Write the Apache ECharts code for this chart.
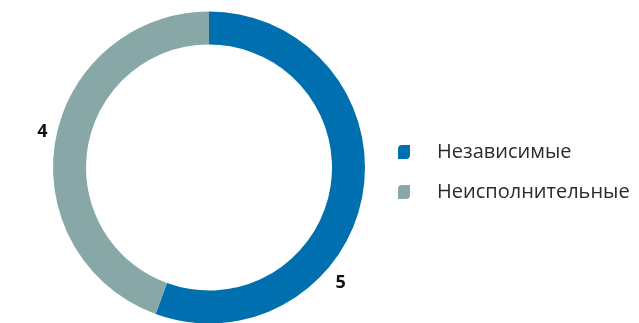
<!DOCTYPE html>
<html>
<head>
<meta charset="utf-8">
<script src="https://cdn.jsdelivr.net/npm/echarts@6/dist/echarts.min.js"></script>
<style>
  html, body { margin: 0; padding: 0; background: #ffffff; }
  #chart { width: 639px; height: 323px; }
</style>
</head>
<body>
<div id="chart"></div>
<script>
// Board composition: independent vs non-executive directors
const categories = ['Независимые', 'Неисполнительные'];
const values = [5, 4];
const colors = ['#006FAF', '#88A8A8'];

// per-slice label nudges (px)
const labelOffsets = [[-38, 87], [3, -7]];

const leafIcon = 'path://M4,0 L12,0 L12,10 Q12,14 8,14 L0,14 L0,4 Q0,0 4,0 Z';

const chart = echarts.init(document.getElementById('chart'), null, { renderer: 'canvas' });

chart.setOption({
  animation: false,
  legend: {
    orient: 'vertical',
    left: 398,
    top: 142,
    padding: 0,
    itemWidth: 12,
    itemHeight: 14,
    itemGap: 20,
    icon: leafIcon,
    selectedMode: false,
    textStyle: {
      fontFamily: 'Open Sans',
      fontSize: 20,
      lineHeight: 20,
      color: '#2b2b2b',
      padding: [0, 0, 0, 22]
    },
    data: categories
  },
  series: [{
    type: 'pie',
    center: [209, 167.5],
    radius: [123, 156],
    startAngle: 90,
    clockwise: true,
    avoidLabelOverlap: false,
    emphasis: { disabled: true },
    label: {
      show: true,
      position: 'outside',
      formatter: '{c}',
      fontFamily: 'Open Sans',
      fontWeight: 'bold',
      fontSize: 18,
      color: '#111111'
    },
    labelLine: { show: false, length: 6, length2: 0 },
    data: categories.map((name, i) => ({
      name,
      value: values[i],
      itemStyle: { color: colors[i] },
      label: { offset: labelOffsets[i] }
    }))
  }]
});
</script>
</body>
</html>
